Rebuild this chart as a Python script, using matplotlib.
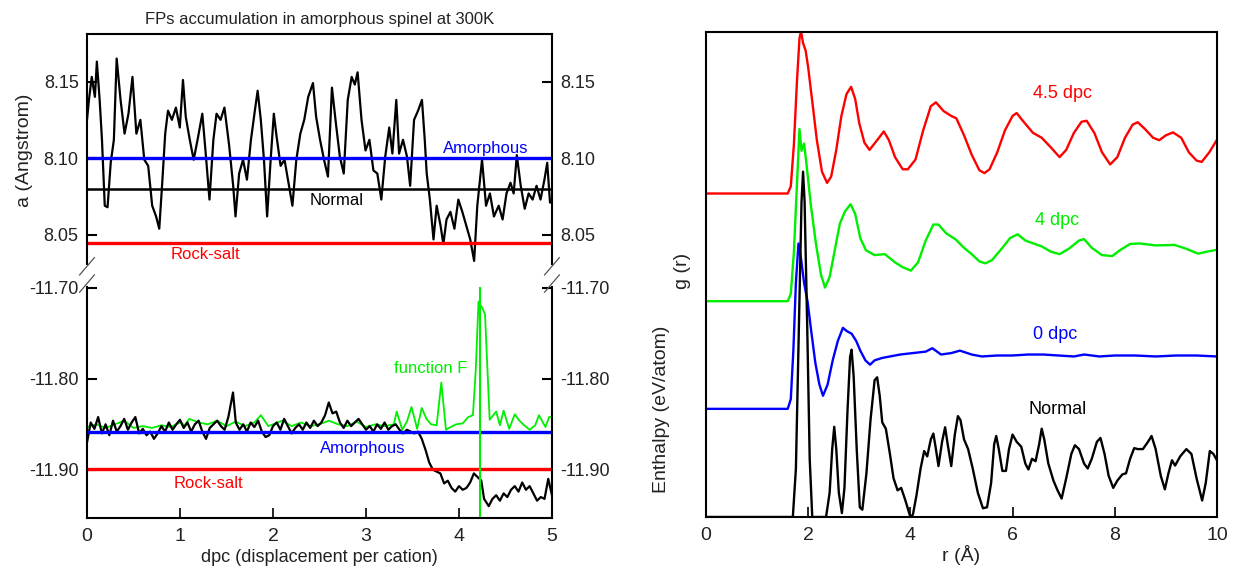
import numpy as np
import matplotlib.pyplot as plt

plt.rcParams['font.family'] = ['Liberation Sans', 'DejaVu Sans']

# ---- left top: lattice parameter a vs dpc ----
dpc_a = [0.000, 0.021, 0.051, 0.085, 0.106, 0.136, 0.161, 0.191, 0.221, 0.255,
         0.289, 0.319, 0.361, 0.404, 0.446, 0.489, 0.531, 0.574, 0.616, 0.658,
         0.701, 0.743, 0.777, 0.807, 0.841, 0.871, 0.913, 0.956, 0.998, 1.032,
         1.062, 1.105, 1.147, 1.189, 1.240, 1.274, 1.317, 1.359, 1.393, 1.436,
         1.478, 1.529, 1.572, 1.597, 1.636, 1.678, 1.720, 1.763, 1.805, 1.835,
         1.869, 1.903, 1.937, 1.975, 2.009, 2.039, 2.082, 2.124, 2.167, 2.209,
         2.251, 2.294, 2.336, 2.379, 2.430, 2.464, 2.506, 2.549, 2.591, 2.634,
         2.676, 2.719, 2.761, 2.804, 2.846, 2.880, 2.910, 2.952, 2.995, 3.037,
         3.080, 3.122, 3.165, 3.207, 3.250, 3.284, 3.326, 3.356, 3.398, 3.441,
         3.475, 3.517, 3.560, 3.602, 3.632, 3.653, 3.687, 3.726, 3.760, 3.802,
         3.832, 3.866, 3.908, 3.951, 3.993, 4.036, 4.078, 4.121, 4.163, 4.197,
         4.248, 4.291, 4.333, 4.376, 4.427, 4.469, 4.511, 4.554, 4.588, 4.622,
         4.664, 4.707, 4.749, 4.792, 4.834, 4.877, 4.919, 4.949, 4.979, 5.000]
a_val = [8.125, 8.138, 8.153, 8.140, 8.163, 8.138, 8.112, 8.069, 8.068, 8.097,
         8.112, 8.165, 8.138, 8.116, 8.129, 8.153, 8.116, 8.125, 8.099, 8.095,
         8.069, 8.062, 8.054, 8.082, 8.116, 8.131, 8.125, 8.133, 8.120, 8.151,
         8.127, 8.112, 8.099, 8.112, 8.129, 8.105, 8.073, 8.112, 8.129, 8.125,
         8.133, 8.108, 8.082, 8.062, 8.090, 8.099, 8.086, 8.112, 8.131, 8.144,
         8.125, 8.099, 8.062, 8.099, 8.129, 8.114, 8.095, 8.099, 8.084, 8.069,
         8.099, 8.116, 8.125, 8.140, 8.149, 8.127, 8.112, 8.099, 8.088, 8.146,
         8.123, 8.101, 8.090, 8.138, 8.153, 8.148, 8.156, 8.125, 8.105, 8.112,
         8.092, 8.090, 8.073, 8.101, 8.120, 8.103, 8.138, 8.103, 8.112, 8.101,
         8.082, 8.125, 8.131, 8.138, 8.112, 8.090, 8.073, 8.047, 8.069, 8.056,
         8.044, 8.060, 8.065, 8.054, 8.073, 8.065, 8.056, 8.047, 8.033, 8.069,
         8.099, 8.069, 8.077, 8.062, 8.069, 8.060, 8.077, 8.084, 8.077, 8.102,
         8.082, 8.067, 8.077, 8.073, 8.082, 8.073, 8.086, 8.097, 8.071, 8.073]
a_amorphous = 8.100
a_normal = 8.080
a_rocksalt = 8.0448

# ---- left bottom: enthalpy vs dpc ----
dpc_h = [0.00, 0.04, 0.08, 0.12, 0.16, 0.20, 0.24, 0.28, 0.32, 0.36,
         0.40, 0.44, 0.48, 0.52, 0.56, 0.60, 0.64, 0.68, 0.72, 0.76,
         0.80, 0.84, 0.88, 0.92, 0.96, 1.00, 1.04, 1.08, 1.12, 1.16,
         1.20, 1.24, 1.28, 1.32, 1.36, 1.40, 1.44, 1.48, 1.52, 1.57,
         1.60, 1.64, 1.68, 1.72, 1.76, 1.80, 1.84, 1.88, 1.92, 1.96,
         2.00, 2.04, 2.08, 2.12, 2.16, 2.20, 2.24, 2.28, 2.32, 2.36,
         2.40, 2.44, 2.48, 2.52, 2.56, 2.60, 2.64, 2.68, 2.72, 2.76,
         2.80, 2.84, 2.88, 2.92, 2.96, 3.00, 3.04, 3.08, 3.12, 3.16,
         3.20, 3.24, 3.28, 3.32, 3.36, 3.40, 3.44, 3.48, 3.52, 3.56,
         3.60, 3.64, 3.68, 3.72, 3.76, 3.80, 3.84, 3.88, 3.92, 3.96,
         4.00, 4.04, 4.08, 4.12, 4.16, 4.20, 4.24, 4.27, 4.32, 4.36,
         4.40, 4.44, 4.48, 4.52, 4.56, 4.60, 4.64, 4.68, 4.72, 4.76,
         4.80, 4.84, 4.88, 4.92, 4.96, 5.00]
enthalpy = [-11.870, -11.848, -11.855, -11.842, -11.860, -11.850, -11.862, -11.846, -11.858, -11.852,
            -11.844, -11.856, -11.848, -11.842, -11.860, -11.855, -11.862, -11.858, -11.866, -11.860,
            -11.852, -11.858, -11.848, -11.856, -11.850, -11.845, -11.854, -11.848, -11.858, -11.850,
            -11.846, -11.858, -11.866, -11.854, -11.850, -11.846, -11.852, -11.856, -11.842, -11.815,
            -11.848, -11.856, -11.850, -11.858, -11.848, -11.853, -11.846, -11.858, -11.864, -11.862,
            -11.852, -11.848, -11.856, -11.844, -11.852, -11.860, -11.854, -11.850, -11.856, -11.848,
            -11.854, -11.846, -11.852, -11.848, -11.840, -11.826, -11.838, -11.836, -11.848, -11.854,
            -11.846, -11.852, -11.848, -11.844, -11.850, -11.856, -11.852, -11.858, -11.850, -11.855,
            -11.848, -11.856, -11.852, -11.850, -11.856, -11.860, -11.856, -11.858, -11.860, -11.858,
            -11.866, -11.878, -11.892, -11.900, -11.902, -11.904, -11.915, -11.912, -11.920, -11.924,
            -11.918, -11.922, -11.920, -11.914, -11.904, -11.908, -11.912, -11.932, -11.940, -11.932,
            -11.928, -11.934, -11.926, -11.930, -11.922, -11.918, -11.924, -11.914, -11.922, -11.918,
            -11.926, -11.934, -11.930, -11.932, -11.910, -11.928]

dpc_f = [0.0, 0.1, 0.2, 0.3, 0.4, 0.5, 0.6, 0.7, 0.8, 0.9, 1.0, 1.05, 1.1, 1.2,
         1.3, 1.4, 1.5, 1.6, 1.7, 1.8, 1.87, 1.95, 2.0, 2.1, 2.2, 2.3, 2.4, 2.5,
         2.6, 2.7, 2.8, 2.9, 3.0, 3.1, 3.2, 3.3, 3.33, 3.39, 3.44, 3.49, 3.55,
         3.60, 3.65, 3.70, 3.76, 3.81, 3.86, 3.91, 3.97, 4.04, 4.10, 4.15, 4.18,
         4.21, 4.25, 4.28, 4.33, 4.40, 4.44, 4.48, 4.54, 4.60, 4.65, 4.69, 4.76,
         4.82, 4.86, 4.93, 4.97, 5.00]
func_f = [-11.853, -11.850, -11.854, -11.850, -11.846, -11.854, -11.852, -11.854,
          -11.851, -11.853, -11.848, -11.851, -11.844, -11.848, -11.850, -11.846,
          -11.852, -11.847, -11.852, -11.848, -11.840, -11.852, -11.850, -11.846,
          -11.852, -11.848, -11.852, -11.850, -11.846, -11.850, -11.852, -11.847,
          -11.853, -11.850, -11.852, -11.850, -11.836, -11.856, -11.847, -11.831,
          -11.855, -11.832, -11.844, -11.850, -11.851, -11.804, -11.856, -11.853,
          -11.850, -11.849, -11.842, -11.840, -11.791, -11.715, -11.722, -11.729,
          -11.845, -11.836, -11.851, -11.835, -11.855, -11.839, -11.846, -11.850,
          -11.856, -11.851, -11.840, -11.853, -11.842, -11.842]
f_peak_dpc = 4.23
h_amorphous = -11.859
h_rocksalt = -11.899

# ---- right: g(r) curves (before vertical offset) ----
r_red = [0.0, 1.60, 1.66, 1.72, 1.78, 1.83, 1.86, 1.90, 1.95, 2.00, 2.08, 2.17,
         2.27, 2.37, 2.45, 2.55, 2.65, 2.75, 2.84, 2.92, 3.00, 3.10, 3.20, 3.35,
         3.48, 3.58, 3.70, 3.85, 3.95, 4.10, 4.25, 4.40, 4.50, 4.65, 4.80, 4.90,
         5.05, 5.20, 5.35, 5.45, 5.55, 5.70, 5.85, 6.00, 6.08, 6.20, 6.40, 6.57,
         6.75, 6.92, 7.05, 7.20, 7.35, 7.45, 7.60, 7.75, 7.91, 8.05, 8.20, 8.35,
         8.45, 8.60, 8.75, 8.87, 9.00, 9.14, 9.30, 9.45, 9.60, 9.70, 9.85, 10.0]
g_red = [0.0, 0.0, 0.15, 1.0, 2.3, 3.2, 3.35, 3.1, 2.95, 2.6, 1.9, 1.1,
         0.45, 0.22, 0.35, 0.9, 1.6, 2.05, 2.2, 1.95, 1.45, 1.05, 0.9, 1.1,
         1.28, 1.1, 0.75, 0.5, 0.5, 0.7, 1.3, 1.8, 1.88, 1.7, 1.6, 1.55,
         1.2, 0.8, 0.48, 0.42, 0.5, 0.85, 1.3, 1.6, 1.66, 1.5, 1.25, 1.15,
         0.95, 0.75, 0.9, 1.25, 1.48, 1.5, 1.25, 0.85, 0.6, 0.75, 1.15, 1.42,
         1.47, 1.32, 1.15, 1.1, 1.2, 1.26, 1.15, 0.85, 0.68, 0.65, 0.85, 1.11]
r_green = [0.0, 1.60, 1.66, 1.72, 1.78, 1.83, 1.87, 1.92, 1.97, 2.05, 2.15, 2.25,
           2.33, 2.42, 2.52, 2.62, 2.72, 2.83, 2.92, 3.02, 3.13, 3.30, 3.50, 3.70,
           3.85, 4.01, 4.15, 4.30, 4.45, 4.55, 4.70, 4.89, 5.05, 5.20, 5.35, 5.47,
           5.60, 5.80, 5.95, 6.10, 6.25, 6.57, 6.75, 6.92, 7.10, 7.30, 7.40, 7.55,
           7.75, 7.95, 8.10, 8.30, 8.49, 8.80, 9.17, 9.40, 9.63, 9.80, 10.0]
g_green = [0.0, 0.0, 0.15, 1.0, 2.4, 3.55, 3.1, 3.25, 2.8, 2.0, 1.2, 0.55,
           0.28, 0.5, 1.05, 1.6, 1.85, 2.0, 1.8, 1.3, 1.05, 0.95, 0.97, 0.8,
           0.7, 0.63, 0.8, 1.25, 1.58, 1.58, 1.4, 1.27, 1.1, 0.97, 0.82, 0.78,
           0.85, 1.1, 1.3, 1.38, 1.25, 1.13, 1.02, 0.97, 1.08, 1.25, 1.28, 1.1,
           0.95, 0.93, 1.05, 1.18, 1.19, 1.15, 1.16, 1.08, 0.98, 1.02, 1.06]
r_blue = [0.0, 1.60, 1.66, 1.71, 1.76, 1.81, 1.86, 1.92, 1.99, 2.06, 2.14, 2.22,
          2.29, 2.38, 2.48, 2.58, 2.68, 2.76, 2.85, 2.94, 3.02, 3.12, 3.21, 3.30,
          3.45, 3.60, 3.80, 4.05, 4.30, 4.43, 4.60, 4.80, 4.97, 5.20, 5.40, 5.70,
          6.0, 6.3, 6.6, 6.9, 7.2, 7.4, 7.7, 8.0, 8.4, 8.8, 9.2, 9.6, 10.0]
g_blue = [0.0, 0.0, 0.2, 1.2, 2.6, 3.41, 3.1, 2.6, 2.2, 1.6, 0.95, 0.5,
          0.27, 0.5, 1.0, 1.4, 1.67, 1.6, 1.55, 1.4, 1.2, 1.0, 0.91, 1.0,
          1.05, 1.08, 1.12, 1.15, 1.18, 1.25, 1.12, 1.15, 1.2, 1.12, 1.08, 1.1,
          1.1, 1.12, 1.12, 1.1, 1.08, 1.12, 1.08, 1.1, 1.1, 1.08, 1.1, 1.1, 1.08]
r_normal = [0.0, 1.70, 1.76, 1.82, 1.87, 1.90, 1.93, 1.98, 2.03, 2.08, 2.35, 2.42,
            2.47, 2.51, 2.55, 2.60, 2.66, 2.71, 2.77, 2.82, 2.85, 2.89, 2.95, 3.01,
            3.06, 3.14, 3.22, 3.30, 3.35, 3.40, 3.45, 3.52, 3.60, 3.67, 3.75, 3.82,
            3.90, 4.00, 4.05, 4.12, 4.20, 4.27, 4.33, 4.40, 4.45, 4.50, 4.55, 4.62,
            4.68, 4.73, 4.80, 4.87, 4.93, 4.98, 5.05, 5.13, 5.22, 5.32, 5.42, 5.50,
            5.58, 5.64, 5.68, 5.73, 5.80, 5.87, 5.93, 6.00, 6.08, 6.17, 6.25, 6.31,
            6.38, 6.45, 6.52, 6.57, 6.62, 6.70, 6.80, 6.88, 6.96, 7.05, 7.15, 7.22,
            7.30, 7.40, 7.47, 7.55, 7.65, 7.72, 7.80, 7.88, 7.97, 8.05, 8.15, 8.22,
            8.30, 8.38, 8.45, 8.55, 8.65, 8.72, 8.80, 8.90, 8.98, 9.05, 9.12, 9.18,
            9.28, 9.40, 9.50, 9.60, 9.71, 9.78, 9.86, 9.93, 10.0]
g_normal = [0.0, 0.0, 1.0, 4.0, 6.5, 7.12, 6.5, 4.0, 1.2, 0.0, 0.0, 0.5,
            1.4, 1.86, 1.4, 0.5, 0.08, 0.6, 2.2, 3.3, 3.45, 2.9, 1.4, 0.2,
            0.15, 0.9, 2.0, 2.82, 2.88, 2.5, 1.95, 1.82, 1.3, 0.8, 0.55, 0.6,
            0.35, 0.0, 0.05, 0.45, 1.0, 1.36, 1.25, 1.6, 1.72, 1.4, 1.05, 1.55,
            1.85, 1.5, 1.05, 1.7, 2.08, 2.0, 1.6, 1.4, 1.0, 0.5, 0.18, 0.2,
            0.7, 1.5, 1.67, 1.4, 0.95, 0.95, 1.4, 1.7, 1.55, 1.45, 1.1, 0.98,
            1.2, 1.15, 1.5, 1.82, 1.6, 1.1, 0.75, 0.55, 0.38, 0.8, 1.3, 1.48,
            1.4, 1.1, 1.0, 1.2, 1.55, 1.63, 1.3, 0.85, 0.6, 0.75, 0.88, 0.9,
            1.2, 1.42, 1.4, 1.4, 1.55, 1.67, 1.4, 0.85, 0.57, 0.9, 1.17, 1.06,
            1.25, 1.4, 1.3, 0.8, 0.34, 0.7, 1.36, 1.3, 1.17]
offsets = [6.67, 4.45, 2.23, 0.0]

fig = plt.figure(figsize=(12.34, 5.77), dpi=100)

ax_top = fig.add_axes([0.0705, 0.5425, 0.3768, 0.3986])
ax_bot = fig.add_axes([0.0705, 0.1023, 0.3768, 0.4003])
ax_g = fig.add_axes([0.5721, 0.104, 0.4141, 0.8405])

tick_col = '#222222'

# top: lattice parameter
ax_top.plot(dpc_a, a_val, color='black', lw=1.6)
ax_top.axhline(a_amorphous, color='#0000ff', lw=2.4)
ax_top.axhline(a_normal, color='black', lw=1.8)
ax_top.axhline(a_rocksalt, color='#ff0000', lw=2.4)
ax_top.text(4.29, 8.106, 'Amorphous', color='#0000ff', ha='center', va='center', fontsize=12)
ax_top.text(2.68, 8.0725, 'Normal', color='black', ha='center', va='center', fontsize=12)
ax_top.text(1.27, 8.037, 'Rock-salt', color='#ff0000', ha='center', va='center', fontsize=12)
ax_top.set_xlim(0, 5)
ax_top.set_ylim(8.031, 8.181)
ax_top.set_yticks([8.05, 8.10, 8.15])
ax_top.set_yticklabels(['8.05', '8.10', '8.15'])
ax_top.spines['bottom'].set_visible(False)
ax_top.tick_params(axis='x', bottom=False, labelbottom=False)
ax_top.tick_params(axis='y', direction='in', length=7, width=1.5, left=True, right=True,
                   labelleft=True, labelright=True, labelsize=13, pad=6, labelcolor=tick_col)
ax_top.set_title('FPs accumulation in amorphous spinel at 300K', fontsize=12, pad=7,
                 color=tick_col)

# bottom: enthalpy
ax_bot.plot(dpc_f, func_f, color='#00ee00', lw=1.3)
ax_bot.plot(dpc_h, enthalpy, color='black', lw=1.6)
ax_bot.axhline(h_amorphous, color='#0000ff', lw=2.4)
ax_bot.axhline(h_rocksalt, color='#ff0000', lw=2.4)
ax_bot.axvline(f_peak_dpc, color='#00ee00', lw=1.5)
ax_bot.text(3.70, -11.789, 'function F', color='#00ee00', ha='center', va='center', fontsize=12)
ax_bot.text(2.97, -11.877, 'Amorphous', color='#0000ff', ha='center', va='center', fontsize=12)
ax_bot.text(1.31, -11.915, 'Rock-salt', color='#ff0000', ha='center', va='center', fontsize=12)
ax_bot.set_xlim(0, 5)
ax_bot.set_ylim(-11.953, -11.699)
ax_bot.set_yticks([-11.90, -11.80, -11.70])
ax_bot.set_yticklabels(['-11.90', '-11.80', '-11.70'])
ax_bot.set_xticks([0, 1, 2, 3, 4, 5])
ax_bot.spines['top'].set_visible(False)
ax_bot.tick_params(axis='y', direction='in', length=7, width=1.5, left=True, right=True,
                   labelleft=True, labelright=True, labelsize=13, pad=6, labelcolor=tick_col)
ax_bot.tick_params(axis='x', direction='in', length=7, width=1.2, labelsize=14, pad=7,
                   labelcolor=tick_col)
ax_bot.set_xlabel('dpc (displacement per cation)', fontsize=13, labelpad=3, color=tick_col)

for ax in (ax_top, ax_bot, ax_g):
    for s in ax.spines.values():
        s.set_linewidth(1.5)

# break marks
for xf in (0.0705, 0.0705 + 0.3768):
    for yf in (0.5425 - 0.004, 0.5026 + 0.006):
        fig.add_artist(plt.Line2D([xf - 0.006, xf + 0.006], [yf - 0.015, yf + 0.015],
                                  color='#555555', lw=0.9, transform=fig.transFigure))

fig.text(0.02, 0.74, 'a (Angstrom)', rotation=90, ha='center', va='center', fontsize=14,
         color=tick_col)

# right: g(r)
colors = ['#ff0000', '#00ee00', '#0000ff', 'black']
rs = [r_red, r_green, r_blue, r_normal]
gs = [g_red, g_green, g_blue, g_normal]
for r, g, off, c in zip(rs, gs, offsets, colors):
    ax_g.plot(r, np.array(g) + off, color=c, lw=1.7)
ax_g.text(6.98, 8.73, '4.5 dpc', color='#ff0000', ha='center', va='center', fontsize=13)
ax_g.text(6.88, 6.12, '4 dpc', color='#00ee00', ha='center', va='center', fontsize=13)
ax_g.text(6.84, 3.77, '0 dpc', color='#0000ff', ha='center', va='center', fontsize=13)
ax_g.text(6.88, 2.21, 'Normal', color='black', ha='center', va='center', fontsize=13)
ax_g.set_xlim(0, 10)
ax_g.set_ylim(0, 10)
ax_g.set_xticks([0, 2, 4, 6, 8, 10])
ax_g.set_yticks([])
ax_g.tick_params(axis='x', direction='in', length=7, width=1.2, labelsize=14, pad=7,
                 labelcolor=tick_col)
ax_g.set_xlabel('r (Å)', fontsize=14, labelpad=1, color=tick_col)

fig.text(0.553, 0.53, 'g (r)', rotation=90, ha='center', va='center', fontsize=14,
         color=tick_col)
fig.text(0.536, 0.29, 'Enthalpy (eV/atom)', rotation=90, ha='center', va='center',
         fontsize=14, color=tick_col)

fig.savefig('out.png', dpi=100)
